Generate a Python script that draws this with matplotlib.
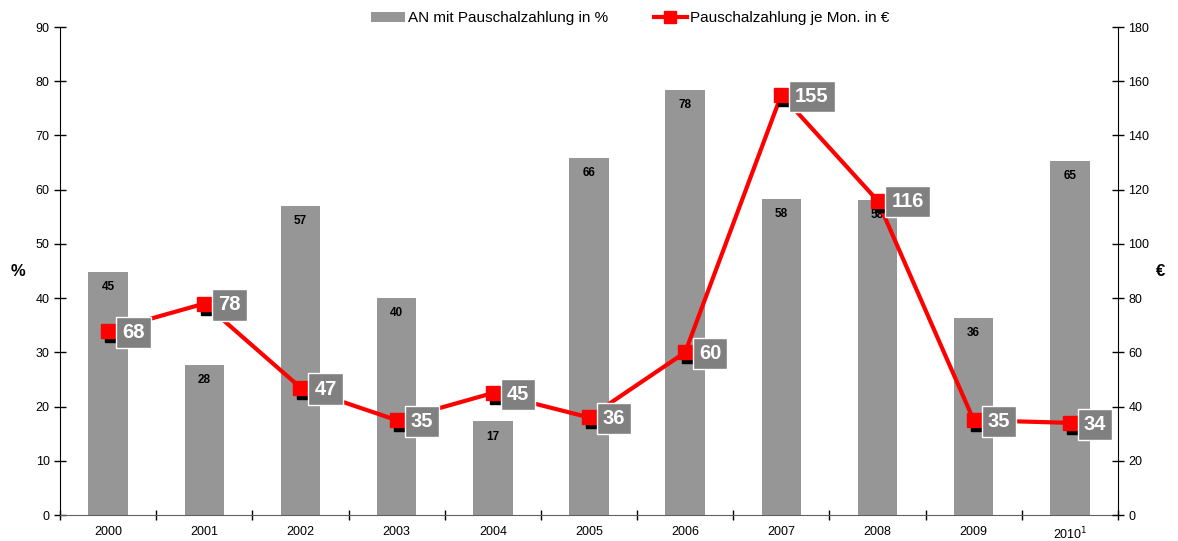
import matplotlib
matplotlib.use("Agg")
import matplotlib.pyplot as plt
from matplotlib.transforms import offset_copy
from matplotlib.patches import Patch
from matplotlib.lines import Line2D

plt.rcParams['font.family'] = ['Liberation Sans', 'DejaVu Sans']

years = ["2000", "2001", "2002", "2003", "2004", "2005", "2006", "2007", "2008", "2009", "2010$^1$"]
pct_values = [44.8, 27.7, 57.0, 40.0, 17.3, 65.9, 78.4, 58.3, 58.1, 36.3, 65.3]
pct_labels = [45, 28, 57, 40, 17, 66, 78, 58, 58, 36, 65]
eur_values = [68, 78, 47, 35, 45, 36, 60, 155, 116, 35, 34]

bar_name = "AN mit Pauschalzahlung in %"
line_name = "Pauschalzahlung je Mon. in €"

fig = plt.figure(figsize=(11.78, 5.41), dpi=100)
ax1 = fig.add_axes([0.051, 0.048, 0.898, 0.902])
ax2 = ax1.twinx()

x = list(range(len(years)))
bar_color = "#969696"
ax1.bar(x, pct_values, width=0.41, color=bar_color, zorder=2)
for xi, v, lab in zip(x, pct_values, pct_labels):
    ax1.annotate(str(lab), (xi, v), xytext=(0, -11), textcoords="offset points",
                 ha="center", va="center", fontsize=8.5, fontweight="bold", color="black", zorder=3)

ax1.set_xlim(-0.5, len(years) - 0.5)
ax1.set_ylim(0, 90)
ax1.set_yticks(range(0, 91, 10))
ax2.set_ylim(0, 180)
ax2.set_yticks(range(0, 181, 20))

ax1.set_xticks(x)
ax1.set_xticklabels(years, fontsize=9)
ax1.set_xticks([i + 0.5 for i in range(-1, len(years))], minor=True)
ax1.tick_params(axis="x", which="major", length=0, pad=8)
ax1.tick_params(axis="x", which="minor", length=7, direction="inout", width=1)
ax1.tick_params(axis="y", labelsize=9, direction="inout", length=8, width=1)
ax2.tick_params(axis="y", labelsize=9, direction="inout", length=8, width=1)

for ax in (ax1, ax2):
    ax.spines["top"].set_visible(False)
ax1.spines["left"].set_color("black")
ax2.spines["right"].set_color("black")
ax1.spines["bottom"].set_color("#606060")
ax2.spines["bottom"].set_visible(False)
ax1.spines["right"].set_visible(False)
ax2.spines["left"].set_visible(False)

ax1.text(-0.04, 0.5, "%", transform=ax1.transAxes, fontsize=12, fontweight="bold",
         ha="center", va="center")
ax2.text(1.04, 0.5, "€", transform=ax2.transAxes, fontsize=12, fontweight="bold",
         ha="center", va="center")

ax2.plot(x, eur_values, color="red", linewidth=3, zorder=2)
shadow = offset_copy(ax2.transData, fig=fig, x=4, y=-4, units="dots")
ax2.plot(x, eur_values, linestyle="none", marker="s", markersize=10.5, color="black",
         transform=shadow, zorder=3)
ax2.plot(x, eur_values, linestyle="none", marker="s", markersize=10.5, color="red",
         markeredgecolor="red", zorder=4)
for xi, v in zip(x, eur_values):
    ax2.annotate(str(v), (xi, v), xytext=(10, -1), textcoords="offset points",
                 ha="left", va="center", fontsize=14.5, fontweight="bold", color="white",
                 bbox=dict(boxstyle="square,pad=0.3", facecolor="#808080", edgecolor="white", linewidth=1),
                 zorder=5)

handles = [Patch(facecolor=bar_color, edgecolor="none"),
           Line2D([0], [0], color="red", linewidth=3, marker="s", markersize=8)]
fig.legend(handles, [bar_name, line_name], loc="center", bbox_to_anchor=(0.535, 0.966),
           ncol=2, frameon=False, fontsize=11, handlelength=2.2, handletextpad=0.2, columnspacing=3)

fig.savefig("out.png", dpi=100)
